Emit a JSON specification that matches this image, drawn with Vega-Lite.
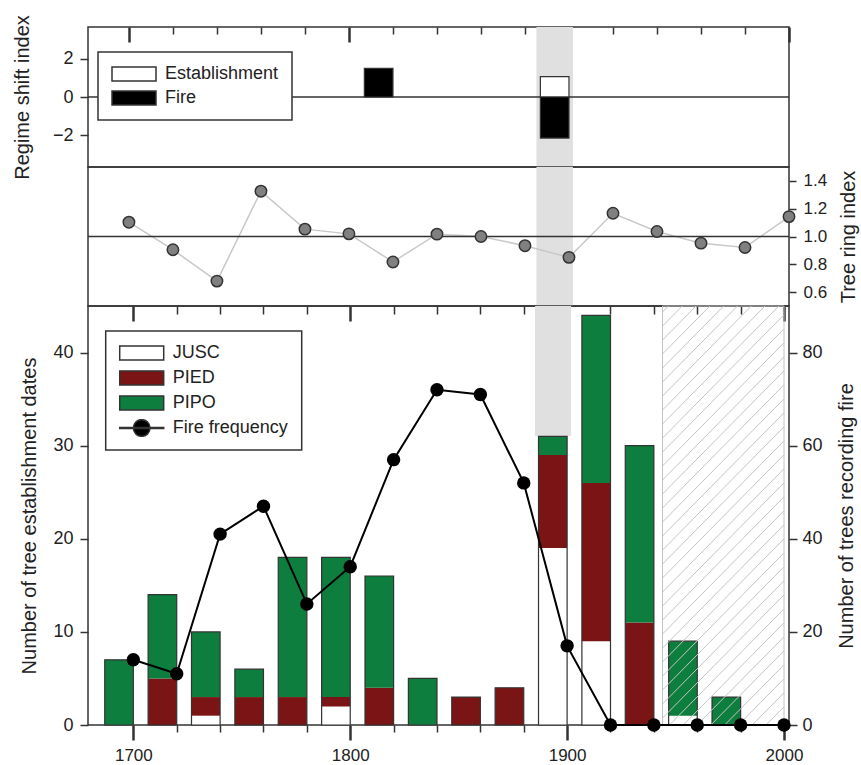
{
  "$schema": "https://vega.github.io/schema/vega-lite/v6.json",
  "padding": {"left": 11, "top": 13, "right": 5, "bottom": 5},
  "bounds": "flush",
  "spacing": 0,
  "config": {
    "view": {"stroke": "#333", "strokeWidth": 1.5},
    "axis": {"labelFont": "Liberation Sans", "labelFontSize": 17, "labelColor": "#222", "titleFont": "Liberation Sans", "titleFontSize": 20, "titleFontWeight": "normal", "titleColor": "#222", "domain": false, "grid": false, "tickColor": "#333", "tickWidth": 1.5, "labelOverlap": false},
    "legend": {"labelFont": "Liberation Sans", "labelFontSize": 18, "labelColor": "#222"}
  },
  "resolve": {"scale": {"color": "independent"}, "legend": {"color": "independent"}},
  "datasets": {
    "band": [{"start": 1885.2, "end": 1901.8}],
    "shift": [
      {"start": 1807, "end": 1820, "type": "Fire", "value": 1.5},
      {"start": 1887, "end": 1900, "type": "Establishment", "value": 1.07},
      {"start": 1887, "end": 1900, "type": "Fire", "value": -2.16}
    ],
    "ring": [
      {"year": 1700, "index": 1.103}, {"year": 1720, "index": 0.905}, {"year": 1740, "index": 0.679},
      {"year": 1760, "index": 1.326}, {"year": 1780, "index": 1.053}, {"year": 1800, "index": 1.019},
      {"year": 1820, "index": 0.817}, {"year": 1840, "index": 1.017}, {"year": 1860, "index": 1.0},
      {"year": 1880, "index": 0.934}, {"year": 1900, "index": 0.85}, {"year": 1920, "index": 1.167},
      {"year": 1940, "index": 1.036}, {"year": 1960, "index": 0.952}, {"year": 1980, "index": 0.921},
      {"year": 2000, "index": 1.143}
    ],
    "estab": [
      {"year": 1700, "species": "PIPO", "n": 7},
      {"year": 1720, "species": "PIED", "n": 5}, {"year": 1720, "species": "PIPO", "n": 9},
      {"year": 1740, "species": "JUSC", "n": 1}, {"year": 1740, "species": "PIED", "n": 2}, {"year": 1740, "species": "PIPO", "n": 7},
      {"year": 1760, "species": "PIED", "n": 3}, {"year": 1760, "species": "PIPO", "n": 3},
      {"year": 1780, "species": "PIED", "n": 3}, {"year": 1780, "species": "PIPO", "n": 15},
      {"year": 1800, "species": "JUSC", "n": 2}, {"year": 1800, "species": "PIED", "n": 1}, {"year": 1800, "species": "PIPO", "n": 15},
      {"year": 1820, "species": "PIED", "n": 4}, {"year": 1820, "species": "PIPO", "n": 12},
      {"year": 1840, "species": "PIPO", "n": 5},
      {"year": 1860, "species": "PIED", "n": 3},
      {"year": 1880, "species": "PIED", "n": 4},
      {"year": 1900, "species": "JUSC", "n": 19}, {"year": 1900, "species": "PIED", "n": 10}, {"year": 1900, "species": "PIPO", "n": 2},
      {"year": 1920, "species": "JUSC", "n": 9}, {"year": 1920, "species": "PIED", "n": 17}, {"year": 1920, "species": "PIPO", "n": 18},
      {"year": 1940, "species": "PIED", "n": 11}, {"year": 1940, "species": "PIPO", "n": 19},
      {"year": 1960, "species": "JUSC", "n": 1}, {"year": 1960, "species": "PIPO", "n": 8},
      {"year": 1980, "species": "PIPO", "n": 3}
    ],
    "fire": [
      {"year": 1700, "trees": 14}, {"year": 1720, "trees": 11}, {"year": 1740, "trees": 41},
      {"year": 1760, "trees": 47}, {"year": 1780, "trees": 26}, {"year": 1800, "trees": 34},
      {"year": 1820, "trees": 57}, {"year": 1840, "trees": 72}, {"year": 1860, "trees": 71},
      {"year": 1880, "trees": 52}, {"year": 1900, "trees": 17}, {"year": 1920, "trees": 0},
      {"year": 1940, "trees": 0}, {"year": 1960, "trees": 0}, {"year": 1980, "trees": 0},
      {"year": 2000, "trees": 0}
    ],
    "hatch": [
      {"x1": 1998.09, "y1": 0, "x2": 2000, "y2": 0.45},
      {"x1": 1991.73, "y1": 0, "x2": 2000, "y2": 1.95},
      {"x1": 1985.36, "y1": 0, "x2": 2000, "y2": 3.46},
      {"x1": 1979.0, "y1": 0, "x2": 2000, "y2": 4.96},
      {"x1": 1972.64, "y1": 0, "x2": 2000, "y2": 6.47},
      {"x1": 1966.27, "y1": 0, "x2": 2000, "y2": 7.97},
      {"x1": 1959.91, "y1": 0, "x2": 2000, "y2": 9.47},
      {"x1": 1953.55, "y1": 0, "x2": 2000, "y2": 10.98},
      {"x1": 1947.18, "y1": 0, "x2": 2000, "y2": 12.48},
      {"x1": 1944, "y1": 0.75, "x2": 2000, "y2": 13.98},
      {"x1": 1944, "y1": 2.26, "x2": 2000, "y2": 15.49},
      {"x1": 1944, "y1": 3.76, "x2": 2000, "y2": 16.99},
      {"x1": 1944, "y1": 5.26, "x2": 2000, "y2": 18.49},
      {"x1": 1944, "y1": 6.77, "x2": 2000, "y2": 20.0},
      {"x1": 1944, "y1": 8.27, "x2": 2000, "y2": 21.5},
      {"x1": 1944, "y1": 9.77, "x2": 2000, "y2": 23.01},
      {"x1": 1944, "y1": 11.28, "x2": 2000, "y2": 24.51},
      {"x1": 1944, "y1": 12.78, "x2": 2000, "y2": 26.01},
      {"x1": 1944, "y1": 14.28, "x2": 2000, "y2": 27.52},
      {"x1": 1944, "y1": 15.79, "x2": 2000, "y2": 29.02},
      {"x1": 1944, "y1": 17.29, "x2": 2000, "y2": 30.52},
      {"x1": 1944, "y1": 18.79, "x2": 2000, "y2": 32.03},
      {"x1": 1944, "y1": 20.3, "x2": 2000, "y2": 33.53},
      {"x1": 1944, "y1": 21.8, "x2": 2000, "y2": 35.03},
      {"x1": 1944, "y1": 23.31, "x2": 2000, "y2": 36.54},
      {"x1": 1944, "y1": 24.81, "x2": 2000, "y2": 38.04},
      {"x1": 1944, "y1": 26.31, "x2": 2000, "y2": 39.54},
      {"x1": 1944, "y1": 27.82, "x2": 2000, "y2": 41.05},
      {"x1": 1944, "y1": 29.32, "x2": 2000, "y2": 42.55},
      {"x1": 1944, "y1": 30.82, "x2": 2000, "y2": 44.06},
      {"x1": 1944, "y1": 32.33, "x2": 1997.64, "y2": 45},
      {"x1": 1944, "y1": 33.83, "x2": 1991.27, "y2": 45},
      {"x1": 1944, "y1": 35.33, "x2": 1984.91, "y2": 45},
      {"x1": 1944, "y1": 36.84, "x2": 1978.55, "y2": 45},
      {"x1": 1944, "y1": 38.34, "x2": 1972.18, "y2": 45},
      {"x1": 1944, "y1": 39.85, "x2": 1965.82, "y2": 45},
      {"x1": 1944, "y1": 41.35, "x2": 1959.45, "y2": 45},
      {"x1": 1944, "y1": 42.85, "x2": 1953.09, "y2": 45},
      {"x1": 1944, "y1": 44.36, "x2": 1946.73, "y2": 45}
    ]
  },
  "vconcat": [
    {
      "width": 701,
      "height": 140,
      "layer": [
        {
          "data": {"name": "band"},
          "mark": {"type": "rect", "color": "#e0e0e0"},
          "encoding": {
            "x": {"field": "start", "type": "quantitative", "scale": {"domain": [1681.4, 2000], "nice": false, "zero": false},
              "axis": {"orient": "top", "title": null, "labels": false, "tickCount": 20, "values": [1700, 1720, 1740, 1760, 1780, 1800, 1820, 1840, 1860, 1880, 1900, 1920, 1940, 1960, 1980, 2000],
                "tickSize": {"condition": {"test": "datum.value % 100 === 0", "value": -15}, "value": -7},
                "tickWidth": {"condition": {"test": "datum.value % 100 === 0", "value": 2.5}, "value": 1.5}}},
            "x2": {"field": "end"}
          }
        },
        {
          "data": {"values": [{"v": 0}]},
          "mark": {"type": "rule", "color": "#333", "strokeWidth": 1.5},
          "encoding": {
            "y": {"field": "v", "type": "quantitative", "scale": {"domain": [-3.68, 3.68], "nice": false},
              "axis": {"values": [-2, 0, 2], "tickCount": 10, "tickSize": 8, "labelPadding": 7, "labelFontSize": 18, "title": "Regime shift index", "titlePadding": 20}}
          }
        },
        {
          "data": {"name": "shift"},
          "mark": {"type": "rect", "stroke": "#333", "strokeWidth": 1.2},
          "encoding": {
            "x": {"field": "start", "type": "quantitative"},
            "x2": {"field": "end"},
            "y": {"field": "value", "type": "quantitative"},
            "y2": {"datum": 0},
            "color": {"field": "type", "type": "nominal", "scale": {"domain": ["Establishment", "Fire"], "range": ["white", "black"]},
              "legend": {"orient": "none", "legendX": 10, "legendY": 25, "title": null, "symbolType": "M-1,-0.318H1V0.318H-1Z", "symbolSize": 1936,
                "symbolStrokeColor": "#333", "symbolStrokeWidth": 1.5, "clipHeight": 18, "rowPadding": 6, "padding": 13, "labelOffset": 8,
                "strokeColor": "#333", "fillColor": "white",
                "encode": {"legend": {"update": {"strokeWidth": {"value": 1.5}}}}}}
          }
        }
      ]
    },
    {
      "width": 701,
      "height": 139,
      "layer": [
        {
          "data": {"name": "band"},
          "mark": {"type": "rect", "color": "#e0e0e0"},
          "encoding": {
            "x": {"field": "start", "type": "quantitative", "scale": {"domain": [1681.4, 2000], "nice": false, "zero": false}, "axis": null},
            "x2": {"field": "end"}
          }
        },
        {
          "data": {"name": "ring"},
          "mark": {"type": "line", "color": "#c8c8c8", "strokeWidth": 1.5},
          "encoding": {
            "x": {"field": "year", "type": "quantitative"},
            "y": {"field": "index", "type": "quantitative", "scale": {"domain": [0.5, 1.5], "nice": false, "zero": false},
              "axis": {"orient": "right", "values": [0.6, 0.8, 1.0, 1.2, 1.4], "tickCount": 10, "format": ".1f", "tickSize": 7, "labelPadding": 7, "labelFontSize": 17,
                "labelOverlap": false, "labelBound": false, "labelFlush": false,
                "title": "Tree ring index", "titleAngle": 270, "titleBaseline": "top", "titlePadding": 12}}
          }
        },
        {
          "data": {"values": [{"v": 1}]},
          "mark": {"type": "rule", "color": "#333", "strokeWidth": 1.5},
          "encoding": {
            "y": {"field": "v", "type": "quantitative"}
          }
        },
        {
          "data": {"name": "ring"},
          "mark": {"type": "point", "filled": true, "fill": "#808080", "stroke": "#333", "strokeWidth": 1.5, "size": 130, "opacity": 1},
          "encoding": {
            "x": {"field": "year", "type": "quantitative"},
            "y": {"field": "index", "type": "quantitative"}
          }
        }
      ]
    },
    {
      "width": 701,
      "height": 419,
      "resolve": {"scale": {"y": "independent"}, "axis": {"x": "independent"}},
      "layer": [
        {
          "layer": [
            {
              "data": {"name": "band"},
              "mark": {"type": "rect", "color": "#e0e0e0"},
              "encoding": {
                "x": {"field": "start", "type": "quantitative", "scale": {"domain": [1681.4, 2000], "nice": false, "zero": false},
                  "axis": {"orient": "bottom", "title": null, "format": "d", "tickCount": 20, "values": [1700, 1720, 1740, 1760, 1780, 1800, 1820, 1840, 1860, 1880, 1900, 1920, 1940, 1960, 1980, 2000],
                    "labelExpr": "datum.value % 100 === 0 ? datum.label : ''", "labelPadding": 7,
                    "tickSize": {"condition": {"test": "datum.value % 100 === 0", "value": 15}, "value": 7},
                    "tickWidth": {"condition": {"test": "datum.value % 100 === 0", "value": 2.5}, "value": 1.5}}},
                "x2": {"field": "end"},
                "y": {"datum": 31, "type": "quantitative", "scale": {"domain": [0, 45], "nice": false},
                  "axis": {"values": [0, 10, 20, 30, 40], "tickCount": 10, "tickSize": 8, "labelPadding": 7, "labelFontSize": 18, "title": "Number of tree establishment dates", "titlePadding": 13}},
                "y2": {"datum": 45}
              }
            },
            {
              "data": {"name": "estab"},
              "mark": {"type": "bar", "width": 28.6, "xOffset": -14.3, "strokeWidth": 0},
              "encoding": {
                "x": {"field": "year", "type": "quantitative"},
                "y": {"field": "n", "type": "quantitative", "stack": "zero"},
                "order": {"field": "species", "sort": "ascending"},
                "color": {"field": "species", "type": "nominal",
                  "scale": {"domain": ["JUSC", "PIED", "PIPO", "Fire frequency"], "range": ["white", "#7b1515", "#0e7e3e", "black"]},
                  "legend": {"orient": "none", "legendX": 17.7, "legendY": 25, "title": null, "symbolType": "M-1,-0.318H1V0.318H-1Z", "symbolSize": 1936,
                    "symbolStrokeColor": "#333", "symbolStrokeWidth": 1.5, "clipHeight": 18, "rowPadding": 7, "padding": 13, "labelOffset": 8,
                    "strokeColor": "#333", "fillColor": "white",
                    "encode": {
                      "legend": {"update": {"strokeWidth": {"value": 1.5}}},
                      "symbols": {"update": {"shape": {"signal": "datum.value === 'Fire frequency' ? 'M-1,-0.02H1V0.02H-1Z M0.38,0A0.38,0.38,0,1,1,-0.38,0A0.38,0.38,0,1,1,0.38,0Z' : 'M-1,-0.318H1V0.318H-1Z'"}}}
                    }}}
              }
            },
            {
              "data": {"name": "estab"},
              "mark": {"type": "bar", "width": 28.6, "xOffset": -14.3, "fillOpacity": 0, "stroke": "#333", "strokeWidth": 1.2},
              "encoding": {
                "x": {"field": "year", "type": "quantitative"},
                "y": {"aggregate": "sum", "field": "n", "type": "quantitative"}
              }
            },
            {
              "data": {"name": "hatch"},
              "mark": {"type": "rule", "color": "#c4c4c4", "strokeWidth": 1},
              "encoding": {
                "x": {"field": "x1", "type": "quantitative"},
                "x2": {"field": "x2"},
                "y": {"field": "y1", "type": "quantitative"},
                "y2": {"field": "y2"}
              }
            },
            {
              "data": {"values": [{"a": 1944, "b": 2000}]},
              "mark": {"type": "rect", "fillOpacity": 0, "stroke": "#c4c4c4", "strokeWidth": 1},
              "encoding": {
                "x": {"field": "a", "type": "quantitative"},
                "x2": {"field": "b"},
                "y": {"datum": 0, "type": "quantitative"},
                "y2": {"datum": 45}
              }
            }
          ]
        },
        {
          "layer": [
            {
              "data": {"name": "fire"},
              "mark": {"type": "line", "color": "black", "strokeWidth": 2},
              "encoding": {
                "x": {"field": "year", "type": "quantitative",
                  "axis": {"orient": "top", "title": null, "labels": false, "tickCount": 20, "values": [1700, 1720, 1740, 1760, 1780, 1800, 1820, 1840, 1860, 1880, 1900, 1920, 1940, 1960, 1980, 2000],
                    "tickSize": {"condition": {"test": "datum.value % 100 === 0", "value": -15}, "value": -8},
                    "tickWidth": {"condition": {"test": "datum.value % 100 === 0", "value": 2.5}, "value": 1.5}}},
                "y": {"field": "trees", "type": "quantitative", "scale": {"domain": [0, 90], "nice": false},
                  "axis": {"orient": "right", "values": [0, 20, 40, 60, 80], "tickCount": 10, "tickSize": 8, "labelPadding": 5, "labelFontSize": 18,
                    "title": "Number of trees recording fire", "titleAngle": 270, "titleBaseline": "top", "titlePadding": 14}}
              }
            },
            {
              "data": {"name": "fire"},
              "mark": {"type": "point", "filled": true, "color": "black", "size": 180, "opacity": 1},
              "encoding": {
                "x": {"field": "year", "type": "quantitative"},
                "y": {"field": "trees", "type": "quantitative"}
              }
            }
          ]
        }
      ]
    }
  ]
}
